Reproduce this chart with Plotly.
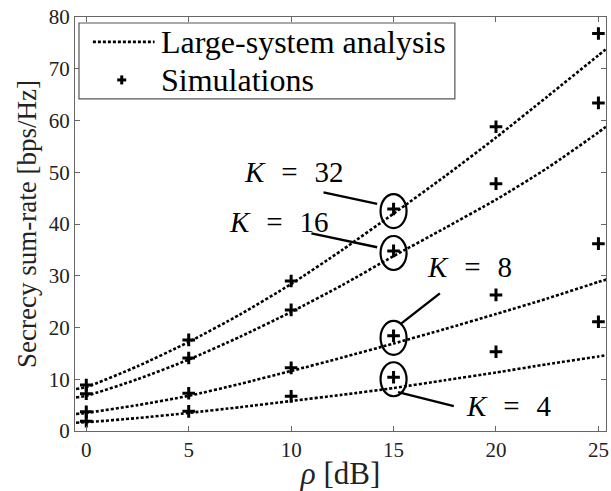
import plotly.graph_objects as go

# ---- data ----
rho_sim = [0, 5, 10, 15, 20, 25]
sim_K32 = [8.9, 17.6, 29.0, 42.9, 58.8, 76.8]
sim_K16 = [7.2, 14.1, 23.4, 34.8, 47.8, 63.4]
sim_K8 = [3.7, 7.3, 12.2, 18.4, 26.3, 36.2]
sim_K4 = [1.9, 3.8, 6.7, 10.4, 15.3, 21.1]

rho_ana = [-0.5, 0, 2.5, 5, 7.5, 10, 12.5, 15, 17.5, 20, 22.5, 25, 25.5]
ana_K32 = [8.1, 8.5, 12.5, 17.2, 22.5, 28.4, 35.0, 42.0, 49.2, 56.7, 64.6, 72.6, 74.2]
ana_K16 = [6.5, 6.8, 10.0, 13.8, 18.2, 23.0, 28.2, 33.8, 39.2, 44.7, 50.8, 57.7, 59.2]
ana_K8 = [3.3, 3.5, 5.0, 6.8, 9.1, 11.6, 14.2, 16.9, 19.7, 22.6, 25.6, 28.8, 29.4]
ana_K4 = [1.6, 1.7, 2.5, 3.5, 4.6, 5.8, 7.0, 8.3, 9.8, 11.3, 12.9, 14.4, 14.7]

labels = ["K = 32", "K = 16", "K = 8", "K = 4"]
legend_names = ["Large-system analysis", "Simulations"]
x_ticks = [0, 5, 10, 15, 20, 25]
y_ticks = [0, 10, 20, 30, 40, 50, 60, 70, 80]

FONT = "Liberation Serif"
LINE_DASH = "3px,2px"

fig = go.Figure()

ana_sets = [ana_K32, ana_K16, ana_K8, ana_K4]
sim_sets = [sim_K32, sim_K16, sim_K8, sim_K4]

for i, a in enumerate(ana_sets):
    fig.add_trace(go.Scatter(
        x=rho_ana, y=a, mode="lines", name=legend_names[0],
        showlegend=False, legendgroup="ana",
        line=dict(color="black", width=2.6, dash=LINE_DASH, shape="spline", smoothing=0.6),
    ))
for i, s in enumerate(sim_sets):
    fig.add_trace(go.Scatter(
        x=rho_sim, y=s, mode="markers", name=legend_names[1],
        showlegend=False, legendgroup="sim",
        marker=dict(symbol="cross-thin", size=9, color="black",
                    line=dict(color="black", width=3)),
    ))

# circles around the 15 dB simulation points
idx15 = rho_sim.index(15)
for s in sim_sets:
    yc = s[idx15] - 0.4
    fig.add_shape(type="circle", xref="x", yref="y",
                  xsizemode="pixel", ysizemode="pixel",
                  xanchor=15, yanchor=yc, x0=-13, x1=13, y0=-17, y1=17,
                  line=dict(color="black", width=2.2))

# leader lines and labels
leaders = [
    ((11.58, 46.1), (14.20, 43.9)),
    ((10.99, 38.2), (14.20, 35.5)),
    ((17.26, 26.6), (15.32, 20.6)),
    ((15.22, 7.5), (17.94, 4.8)),
]
for (p0, p1) in leaders:
    fig.add_shape(type="line", xref="x", yref="y",
                  x0=p0[0], y0=p0[1], x1=p1[0], y1=p1[1],
                  line=dict(color="black", width=2.4))

label_pos = [(10.12, 50.1), (9.39, 40.3), (18.71, 31.6), (20.65, 4.8)]
for lab, (lx, ly) in zip(labels, label_pos):
    k, num = lab.split(" = ")
    fig.add_annotation(x=lx, y=ly, xref="x", yref="y", showarrow=False,
                       text="<i>" + k + "</i>\u2002\u200a=\u2002\u200a" + num,
                       font=dict(family=FONT, size=29, color="black"))

# ---- legend box (drawn in paper coordinates) ----
fig.add_shape(type="rect", xref="paper", yref="paper",
              x0=0.0075, x1=0.7154, y0=0.8024, y1=0.9855,
              line=dict(color="#555", width=1.2), fillcolor="white", layer="above")
fig.add_shape(type="line", xref="paper", yref="paper",
              x0=0.0337, x1=0.1498, y0=0.9398, y1=0.9398,
              line=dict(color="black", width=2.6, dash=LINE_DASH), layer="above")
for (dx0, dx1, dy0, dy1) in [(-4.5, 4.5, 0, 0), (0, 0, -4.5, 4.5)]:
    fig.add_shape(type="line", xref="paper", yref="paper",
                  xsizemode="pixel", ysizemode="pixel",
                  xanchor=0.088, yanchor=0.848,
                  x0=dx0, x1=dx1, y0=dy0, y1=dy1,
                  line=dict(color="black", width=3), layer="above")
for name, yp in zip(legend_names, [0.9398, 0.848]):
    fig.add_annotation(x=0.159, y=yp, xref="paper", yref="paper",
                       xanchor="left", yanchor="middle", showarrow=False,
                       text=name, font=dict(family=FONT, size=32, color="black"))

fig.update_layout(
    width=611, height=491,
    margin=dict(l=75, r=2, t=17, b=59),
    paper_bgcolor="white", plot_bgcolor="white",
    font=dict(family=FONT, color="black"),
    showlegend=False,
)
fig.update_xaxes(
    range=[-0.55, 25.37], tickvals=x_ticks, ticktext=[str(v) for v in x_ticks],
    showline=True, mirror="ticks", linecolor="#666", linewidth=1.2,
    ticks="inside", ticklen=5, tickcolor="#666", showgrid=False, zeroline=False,
    ticklabeloverflow="allow",
    tickfont=dict(family=FONT, size=21, color="#222"),
    title=dict(text="<i>ρ</i> [dB]", font=dict(family=FONT, size=31, color="#222"), standoff=5),
)
fig.update_yaxes(
    range=[0, 80], tickvals=y_ticks, ticktext=[str(v) for v in y_ticks],
    showline=True, mirror="ticks", linecolor="#666", linewidth=1.2,
    ticks="inside", ticklen=5, tickcolor="#666", showgrid=False, zeroline=False,
    ticklabeloverflow="allow",
    tickfont=dict(family=FONT, size=21, color="#222"),
    title=dict(text="Secrecy sum-rate [bps/Hz]", font=dict(family=FONT, size=27, color="#222"), standoff=4),
)

fig.write_html("out.html")
